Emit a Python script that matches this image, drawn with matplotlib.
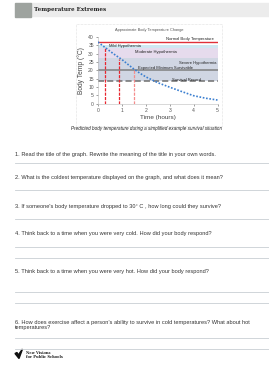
import numpy as np
import matplotlib.pyplot as plt
from matplotlib.patches import Rectangle, Polygon

W, H = 269, 365

# Chart data
hours = [0, 0.25, 0.5, 0.75, 1.0, 1.25, 1.5, 1.75, 2.0, 2.5, 3.0, 3.5, 4.0, 4.5, 5.0]
body_temp = [37.0, 34.2, 31.5, 28.9, 26.5, 23.6, 20.8, 18.3, 16.1, 12.6, 9.9, 7.3, 4.8, 3.3, 2.2]

normal_temp = 37
min_survivable = 20.5
survival_record = 13.6

# zones
zone_names = ['Mild Hypothermia', 'Moderate Hypothermia', 'Severe Hypothermia']
zone_low = [33.3, 27.3, 13.6]
zone_high = [35.3, 33.3, 27.3]
zone_colors = ['#cfe8f2', '#e6dbed', '#d0d6e3']

cross_hours = [0.31, 0.88, 1.51]
cross_temps = [34.0, 26.8, 20.5]
cross_colors = ['#e8252e', '#e8252e', '#f58c8c']

questions = [
    "1. Read the title of the graph. Rewrite the meaning of the title in your own words.",
    "2. What is the coldest temperature displayed on the graph, and what does it mean?",
    "3. If someone's body temperature dropped to 30\u00b0 C , how long could they survive?",
    "4. Think back to a time when you were very cold. How did your body respond?",
    "5. Think back to a time when you were very hot. How did your body respond?",
    "6. How does exercise affect a person\u2019s ability to survive in cold temperatures? What about hot\ntemperatures?",
]
question_y = [155, 177.5, 206.5, 233.5, 271.5, 325]
rule_y = [162.7, 190, 219, 247.3, 258.3, 292.3, 303.3, 337.7, 348.5]

plt.rcParams['font.family'] = ['Liberation Sans', 'DejaVu Sans']

fig = plt.figure(figsize=(W / 100, H / 100), dpi=100)


def fx(x):
    return x / W


def fy(y):
    return 1 - y / H


# header bar
fig.patches.append(Rectangle((fx(30), fy(16)), fx(239), 13 / H, transform=fig.transFigure,
                             color='#ececec', zorder=0))
fig.patches.append(Rectangle((fx(15), fy(16.5)), fx(16), 14 / H, transform=fig.transFigure,
                             color='#9ea39f', zorder=1))
fig.text(fx(34), fy(9.5), 'Temperature Extremes', fontsize=4.1, fontweight='bold',
         family='DejaVu Serif', va='center', ha='left', color='#222222')

# dotted frame round the chart
fig.patches.append(Rectangle((fx(76), fy(126)), fx(146), 102 / H, transform=fig.transFigure,
                             fill=False, ec='#c8c8c8', lw=0.4, ls=(0, (1, 1.5)), zorder=0))
fig.text(fx(149), fy(30), 'Approximate Body Temperature Change', fontsize=2.8,
         ha='center', va='center', color='#555555')
fig.text(fx(71), fy(128.7), 'Predicted body temperature during a simplified example survival situation',
         fontsize=3.3, style='italic', ha='left', va='center', color='#222222')

ax = fig.add_axes([fx(98), fy(103.7), 119.5 / W, 66.7 / H])
ax.set_xlim(0, 5)
ax.set_ylim(0, 40)

for lo, hi, c in zip(zone_low, zone_high, zone_colors):
    ax.axhspan(lo, hi, color=c, lw=0, zorder=0)

ax.axhline(normal_temp, color='#e0313a', lw=1.0, zorder=2)
ax.axhline(min_survivable, color='#7f7f7f', lw=1.1, zorder=2)
ax.axhline(survival_record, color='#6f6f6f', lw=1.1, ls=(0, (4, 2)), zorder=2)

for h, t, c in zip(cross_hours, cross_temps, cross_colors):
    ax.plot([h, h], [0, t], color=c, lw=0.9, ls=(0, (2.5, 1)), zorder=3)

ax.plot(hours, body_temp, color='#3b7fd0', lw=1.2, ls=(0, (1, 1)), zorder=4)

lab_fs = 3.0
ax.text(4.85, 37.8, 'Normal Body Temperature', fontsize=lab_fs, ha='right', va='bottom', color='#222222')
ax.text(0.46, 34.6, zone_names[0], fontsize=lab_fs, ha='left', va='center', color='#222222')
ax.text(1.53, 31.0, zone_names[1], fontsize=lab_fs, ha='left', va='center', color='#222222')
ax.text(4.97, 24.6, zone_names[2], fontsize=lab_fs, ha='right', va='center', color='#222222')
ax.text(1.67, 21.6, 'Expected Minimum Survivable', fontsize=lab_fs, ha='left', va='center', color='#222222')
ax.text(3.11, 14.5, 'Survival Record', fontsize=lab_fs, ha='left', va='center', color='#222222')

ax.set_xticks(range(0, 6))
ax.set_yticks(range(0, 45, 5))
ax.tick_params(labelsize=3.6, length=1.5, width=0.4, pad=1.5, colors='#555555', labelcolor='#555555')
for side in ['top', 'right']:
    ax.spines[side].set_visible(False)
for side in ['left', 'bottom']:
    ax.spines[side].set_color('#bbbbbb')
    ax.spines[side].set_linewidth(0.4)
ax.set_xlabel('Time (hours)', fontsize=4.6, color='#444444', labelpad=1.5)
ax.set_ylabel('Body Temp (\u00b0C)', fontsize=4.8, color='#444444', labelpad=2)

# questions and answer rules
for q, y in zip(questions, question_y):
    fig.text(fx(15), fy(y), q, fontsize=4.05, ha='left', va='center', color='#333333',
             linespacing=0.85)
for y in rule_y:
    fig.add_artist(plt.Line2D([fx(15), 1], [fy(y), fy(y)], transform=fig.transFigure,
                              color='#c9ced3', lw=0.6))

# logo
fig.patches.append(Polygon([(fx(15), fy(353.5)), (fx(17), fy(352.5)), (fx(18.3), fy(355)),
                            (fx(22.5), fy(349)), (fx(19), fy(358.5))],
                           closed=True, transform=fig.transFigure, color='#111111'))
fig.text(fx(26), fy(353.3), 'New Visions', fontsize=2.6, fontweight='bold', family='DejaVu Serif',
         ha='left', va='center', color='#222222')
fig.text(fx(26), fy(356.6), 'for Public Schools', fontsize=2.6, fontweight='bold', family='DejaVu Serif',
         ha='left', va='center', color='#222222')

fig.savefig('out.png', dpi=100, facecolor='white')
